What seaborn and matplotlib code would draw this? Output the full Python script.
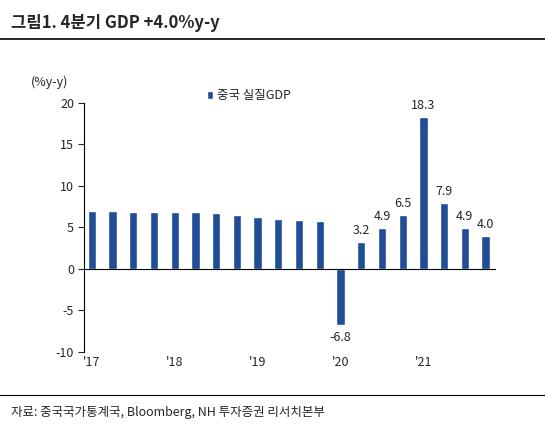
import matplotlib
matplotlib.use("Agg")
import matplotlib.pyplot as plt
import seaborn as sns
import pandas as pd

quarters = [f"{y}Q{q}" for y in range(17, 22) for q in range(1, 5)]
values = [7.0, 7.0, 6.9, 6.8, 6.9, 6.9, 6.7, 6.5, 6.3, 6.0, 5.9, 5.8,
          -6.8, 3.2, 4.9, 6.5, 18.3, 7.9, 4.9, 4.0]
year_labels = ["'17", "'18", "'19", "'20", "'21"]
labeled = {12: "-6.8", 13: "3.2", 14: "4.9", 15: "6.5", 16: "18.3", 17: "7.9", 18: "4.9", 19: "4.0"}

sns.set_style("white")
plt.rcParams['font.family'] = ['Noto Sans CJK KR', 'DejaVu Sans']
plt.rcParams['axes.unicode_minus'] = False

df = pd.DataFrame({"q": quarters, "v": values})
fig = plt.figure(figsize=(5.45, 4.29), dpi=100)
ax = fig.add_axes([0.155, 0.18, 0.755, 0.58])
sns.barplot(data=df, x="q", y="v", color="#1f4e97", width=0.4, ax=ax, saturation=1, label="중국 실질GDP")
ax.set_ylim(-10, 20)
ax.set_yticks(range(-10, 21, 5))
ax.set_xlim(-0.35, 19.5)
ax.set_xticks([0, 4, 8, 12, 16])
ax.set_xticklabels(year_labels)
ax.tick_params(axis='x', length=0, pad=3)
ax.tick_params(axis='y', length=4, direction='out', left=True)
ax.tick_params(labelsize=9)
ax.set_xlabel(""); ax.set_ylabel("")
for s in ["top", "right", "bottom"]:
    ax.spines[s].set_visible(False)
ax.spines["left"].set_color("black")
ax.axhline(0, color="black", lw=0.8)
for i, t in labeled.items():
    v = values[i]
    ax.text(i, v + 0.6 if v > 0 else v - 0.7, t, ha="center", va="bottom" if v > 0 else "top", fontsize=9)
ax.text(-0.13, 1.07, "(%y-y)", transform=ax.transAxes, fontsize=9)
ax.legend(loc="upper center", bbox_to_anchor=(0.4, 1.1), frameon=False, fontsize=9, handlelength=0.5, handletextpad=0.3)
fig.text(0.02, 0.935, "그림1. 4분기 GDP +4.0%y-y", fontsize=12, fontweight="bold")
fig.add_artist(plt.Line2D([0.0, 1.0], [0.91, 0.91], color="black", lw=1.2))
fig.add_artist(plt.Line2D([0.0, 1.0], [0.08, 0.08], color="black", lw=0.8))
fig.text(0.02, 0.03, "자료: 중국국가통계국, Bloomberg, NH 투자증권 리서치본부", fontsize=9)
fig.savefig("out.png", dpi=100)
